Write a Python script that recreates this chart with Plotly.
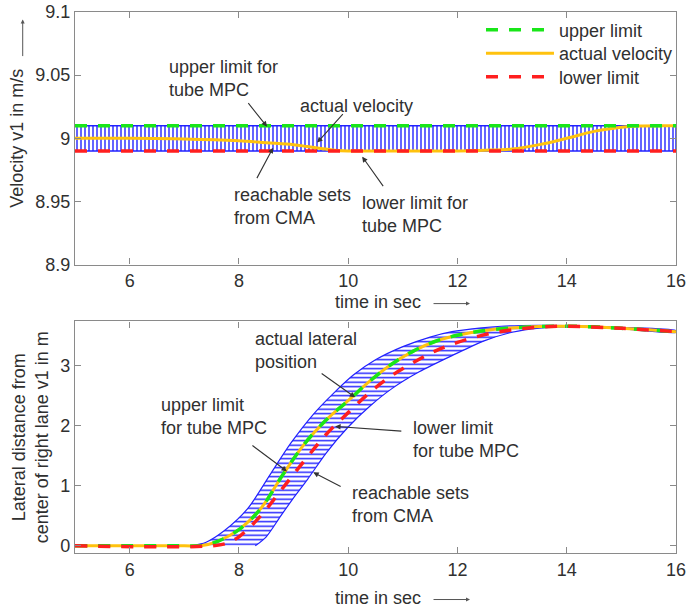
import plotly.graph_objects as go

# ---------------- top panel: velocity ----------------
vel_time = [5, 6, 7, 8, 8.5, 9, 9.25, 9.5, 9.75, 10, 11, 12, 12.5, 13, 13.5, 14, 14.5, 15, 15.3, 16]
vel_actual = [9.0, 9.0, 8.9995, 8.998, 8.9965, 8.995, 8.9935, 8.992, 8.9905, 8.99, 8.99, 8.99,
              8.9905, 8.9915, 8.995, 9.0, 9.0055, 9.0088, 9.0098, 9.01]
vel_limit_time = [5, 16]
vel_upper = [9.01, 9.01]
vel_lower = [8.99, 8.99]
vel_yticks = [8.9, 8.95, 9.0, 9.05, 9.1]
vel_yticklabels = ["8.9", "8.95", "9", "9.05", "9.1"]

# ---------------- bottom panel: lateral position ----------------
lat_time = [5, 7, 7.3, 7.6, 8.0, 8.4, 8.8, 9.2, 9.6, 10.0, 10.4, 10.8, 11.2, 11.6, 12.0,
            12.5, 13, 13.5, 14, 14.5, 15, 15.5, 16]
lat_actual = [0, 0, 0, 0.07, 0.27, 0.62, 1.18, 1.7, 2.1, 2.42, 2.75, 3.03, 3.25, 3.41, 3.51,
              3.59, 3.63, 3.655, 3.66, 3.65, 3.625, 3.6, 3.57]
lat_upper = [0, 0, 0, 0.07, 0.27, 0.62, 1.18, 1.7, 2.1, 2.42, 2.75, 3.03, 3.25, 3.41, 3.51,
             3.59, 3.63, 3.655, 3.66, 3.65, 3.625, 3.6, 3.57]
lat_lower_time = [5, 7.5, 7.8, 8.0, 8.4, 8.8, 9.2, 9.6, 10.0, 10.4, 10.8, 11.2, 11.6, 12.0,
                  12.5, 13, 13.5, 14, 15, 16]
lat_lower = [0, 0, 0.05, 0.15, 0.5, 0.96, 1.42, 1.86, 2.22, 2.56, 2.84, 3.06, 3.25, 3.39,
             3.52, 3.6, 3.645, 3.66, 3.625, 3.57]
reach_left_time = [7.1, 7.4, 7.73, 8.16, 8.58, 8.95, 9.37, 9.74, 10.1, 10.5, 11.0, 11.5,
                   11.9, 12.4, 12.8, 13.5, 14, 15, 16]
reach_left = [0, 0.06, 0.25, 0.62, 1.2, 1.71, 2.2, 2.55, 2.85, 3.1, 3.32, 3.48, 3.57, 3.63,
              3.66, 3.675, 3.672, 3.64, 3.585]
reach_right_time = [8.3, 8.5, 8.76, 9.0, 9.25, 9.6, 10.0, 10.4, 10.8, 11.3, 11.9, 12.5, 13.0,
                    13.5, 14, 15, 16]
reach_right = [0, 0.15, 0.49, 0.8, 1.1, 1.55, 1.98, 2.33, 2.62, 2.9, 3.17, 3.42, 3.56, 3.63,
               3.65, 3.615, 3.56]
lat_yticks = [0, 1, 2, 3]
x_ticks = [6, 8, 10, 12, 14, 16]

GREEN = "#19e619"
YELLOW = "#ffc20e"
RED = "#ff1f1f"
BLUE = "#2222ff"
TXT = "#303030"
AXC = "#8a8a8a"
FONT = "Liberation Sans, Arial, sans-serif"
DASH = "12px,11px"

fig = go.Figure()

# top band (reachable sets)
band_x = vel_limit_time + vel_limit_time[::-1]
band_y = vel_upper + vel_lower[::-1]
fig.add_trace(go.Scatter(x=band_x, y=band_y, fill="toself", mode="lines",
                         line=dict(color=BLUE, width=1.5),
                         fillpattern=dict(shape="|", size=4, solidity=0.35, fgcolor=BLUE, bgcolor="white"),
                         showlegend=False, hoverinfo="skip", xaxis="x", yaxis="y"))
fig.add_trace(go.Scatter(x=vel_time, y=vel_actual, mode="lines", name="actual velocity",
                         line=dict(color=YELLOW, width=3, shape="spline"), legend="legend2",
                         xaxis="x", yaxis="y"))
fig.add_trace(go.Scatter(x=vel_limit_time, y=vel_upper, mode="lines", name="upper limit",
                         line=dict(color=GREEN, width=3.5, dash=DASH), legend="legend",
                         xaxis="x", yaxis="y"))
fig.add_trace(go.Scatter(x=vel_limit_time, y=vel_lower, mode="lines", name="lower limit",
                         line=dict(color=RED, width=3.5, dash=DASH), legend="legend3",
                         xaxis="x", yaxis="y"))

# bottom band
rb_x = reach_left_time + reach_right_time[::-1]
rb_y = reach_left + reach_right[::-1]
fig.add_trace(go.Scatter(x=rb_x, y=rb_y, fill="toself", mode="lines",
                         line=dict(color=BLUE, width=1.2, shape="spline", smoothing=0.8),
                         fillpattern=dict(shape="-", size=4.5, solidity=0.33, fgcolor=BLUE, bgcolor="white"),
                         showlegend=False, hoverinfo="skip", xaxis="x2", yaxis="y2"))
fig.add_trace(go.Scatter(x=lat_time, y=lat_actual, mode="lines", showlegend=False,
                         line=dict(color=YELLOW, width=3, shape="spline"), xaxis="x2", yaxis="y2"))
fig.add_trace(go.Scatter(x=lat_time, y=lat_upper, mode="lines", showlegend=False,
                         line=dict(color=GREEN, width=3.5, dash=DASH, shape="spline"),
                         xaxis="x2", yaxis="y2"))
fig.add_trace(go.Scatter(x=lat_lower_time, y=lat_lower, mode="lines", showlegend=False,
                         line=dict(color=RED, width=3.5, dash=DASH, shape="spline"),
                         xaxis="x2", yaxis="y2"))

axis_common = dict(showline=True, linecolor=AXC, linewidth=1.3, mirror="ticks", ticks="inside",
                   ticklen=6, tickcolor=AXC, tickwidth=1.2, showgrid=False, zeroline=False,
                   automargin=False, tickfont=dict(size=18, color=TXT, family=FONT))

legend_common = dict(x=0.6755, xanchor="left", yanchor="middle", bgcolor="rgba(0,0,0,0)",
                     borderwidth=0, itemwidth=68, font=dict(size=18, color=TXT))

fig.update_layout(
    template="none",
    width=689, height=608,
    margin=dict(l=75, r=13, t=12, b=55, autoexpand=False),
    paper_bgcolor="white", plot_bgcolor="white",
    font=dict(family=FONT, size=18, color=TXT),
    xaxis=dict(domain=[0, 1], anchor="y", range=[5, 16], tickvals=x_ticks, **axis_common),
    yaxis=dict(domain=[0.533, 1], anchor="x", range=[8.9, 9.1], tickvals=vel_yticks,
               ticktext=vel_yticklabels,
               title=dict(text="Velocity v1 in m/s", standoff=6, font=dict(size=18, color=TXT)),
               **axis_common),
    xaxis2=dict(domain=[0, 1], anchor="y2", range=[5, 16], tickvals=x_ticks, **axis_common),
    yaxis2=dict(domain=[0, 0.428], anchor="x2", range=[-0.12, 3.74], tickvals=lat_yticks,
                title=dict(text="Lateral distance from<br>center of right lane v1 in m", standoff=6,
                           font=dict(size=18, color=TXT)),
                **axis_common),
    legend=dict(y=0.9667, **legend_common),
    legend2=dict(y=0.9233, **legend_common),
    legend3=dict(y=0.8799, **legend_common),
    showlegend=True,
)

ann = []
def label(text, x, y, xref, yref):
    ann.append(dict(text=text, x=x, y=y, xref=xref, yref=yref, showarrow=False,
                    xanchor="left", yanchor="middle", align="left",
                    font=dict(size=18, color=TXT, family=FONT)))

def arrow(x, y, ax, ay, xref, yref):
    ann.append(dict(text="", x=x, y=y, ax=ax, ay=ay, xref=xref, yref=yref, axref=xref, ayref=yref,
                    showarrow=True, arrowhead=2, arrowsize=1, arrowwidth=1.1, arrowcolor="#333"))

# top panel callouts
label("upper limit for<br>tube MPC", 6.685, 9.0476, "x", "y")
arrow(8.516, 9.0092, 8.15, 9.029, "x", "y")
label("actual velocity", 9.084, 9.0258, "x", "y")
arrow(9.432, 8.9966, 9.927, 9.0203, "x", "y")
label("reachable sets<br>from CMA", 7.875, 8.9463, "x", "y")
arrow(8.626, 8.9926, 8.315, 8.9673, "x", "y")
label("lower limit for<br>tube MPC", 10.22, 8.94, "x", "y")
arrow(10.256, 8.9855, 10.66, 8.961, "x", "y")

# bottom panel callouts
label("actual lateral<br>position", 8.26, 3.25, "x2", "y2")
arrow(10.128, 2.475, 9.487, 2.89, "x2", "y2")
label("upper limit<br>for tube MPC", 6.54, 2.15, "x2", "y2")
arrow(8.88, 1.24, 8.22, 1.69, "x2", "y2")
label("lower limit<br>for tube MPC", 11.15, 1.775, "x2", "y2")
arrow(9.76, 1.99, 11.0, 1.91, "x2", "y2")
label("reachable sets<br>from CMA", 10.04, 0.69, "x2", "y2")
arrow(9.36, 1.225, 9.89, 0.975, "x2", "y2")

# axis title arrows
for yv, xr in [(0.463, "x"), (-0.084, "x2")]:
    ann.append(dict(text="time in sec", x=10.55, y=yv + 0.001, xref=xr, yref="paper", showarrow=False,
                    xanchor="center", yanchor="middle", font=dict(size=18, color=TXT, family=FONT)))
    ann.append(dict(text="", x=12.23, y=yv - 0.002, xref=xr, yref="paper", ax=-38, ay=0, showarrow=True,
                    arrowhead=2, arrowsize=0.8, arrowwidth=1, arrowcolor="#555"))
ann.append(dict(text="", x=-0.087, y=9.094, xref="paper", yref="y", ax=0, ay=38, showarrow=True,
                arrowhead=2, arrowsize=0.8, arrowwidth=1, arrowcolor="#555"))
ann.append(dict(text="", x=-0.080, y=3.99, xref="paper", yref="y2", ax=0, ay=33, showarrow=True,
                arrowhead=2, arrowsize=0.8, arrowwidth=1, arrowcolor="#555"))

fig.update_layout(annotations=ann)
fig.write_html("out.html", config={"displayModeBar": False},
               post_script="document.body.style.margin='0';")
